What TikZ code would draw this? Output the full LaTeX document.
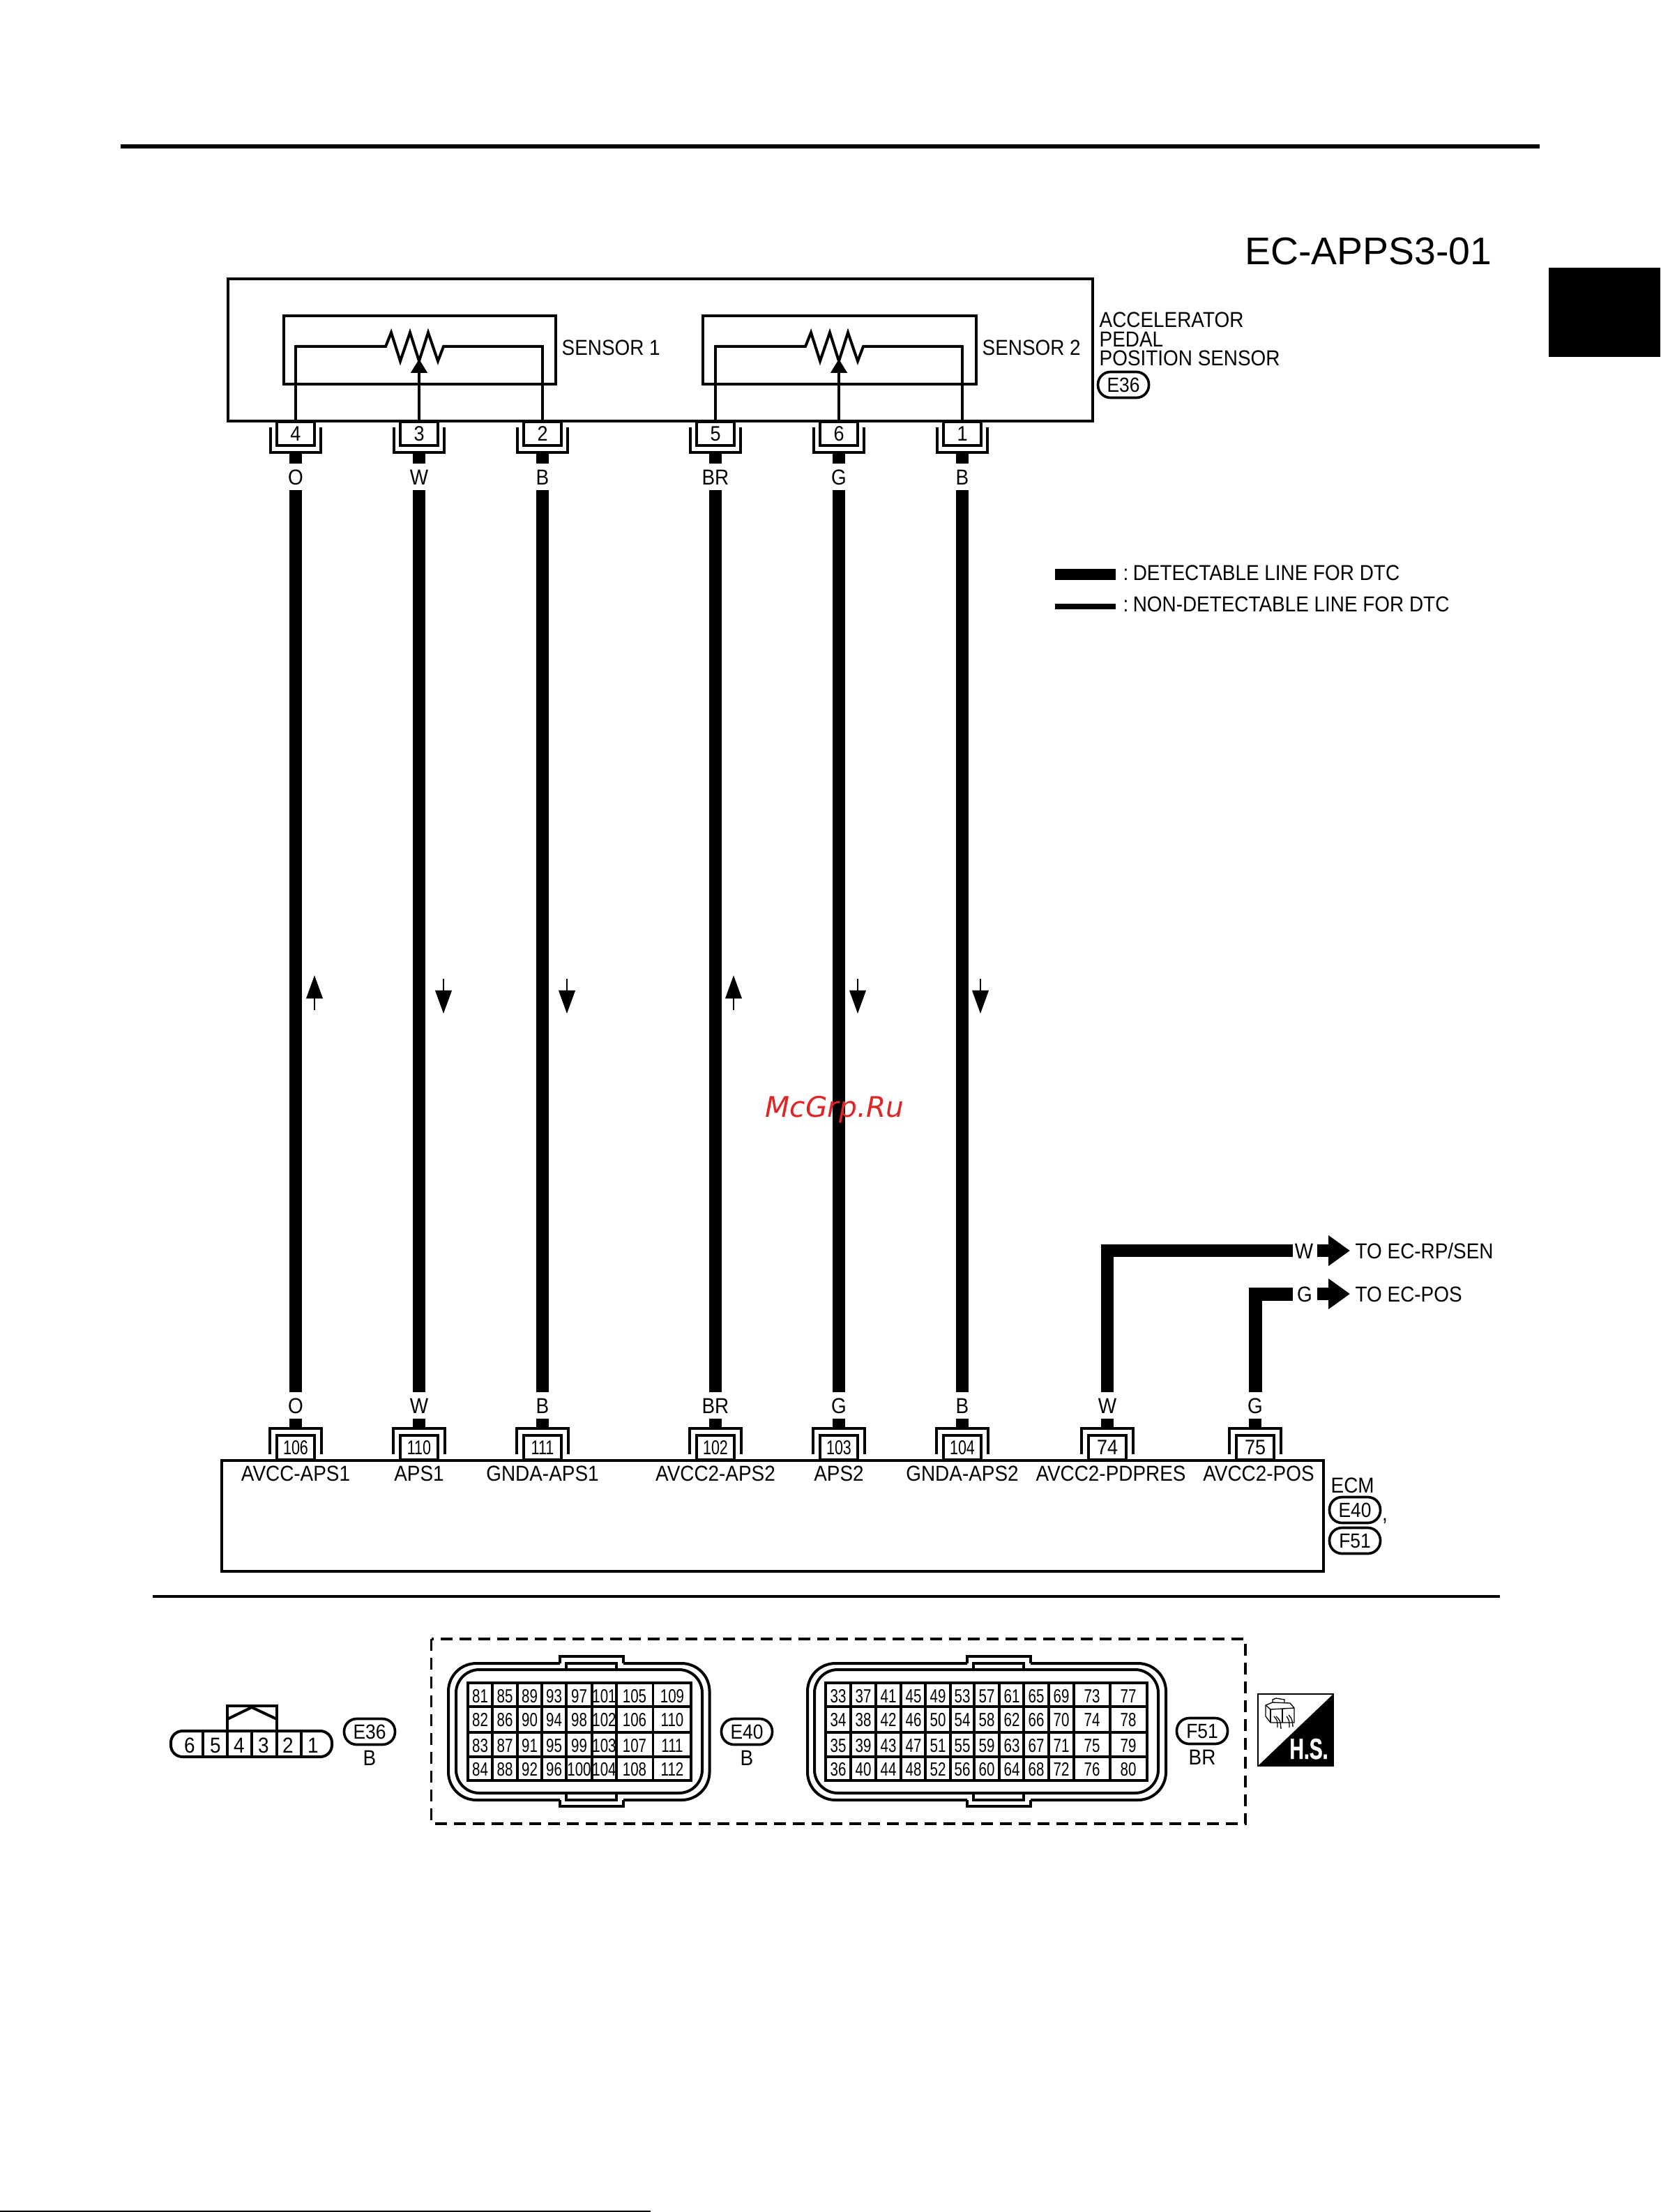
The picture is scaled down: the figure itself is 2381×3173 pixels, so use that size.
\documentclass[tikz,border=0pt]{standalone}
\usepackage{fontspec}
\setmainfont[FakeStretch=0.9]{Liberation Sans}
\newfontfamily\cellfont[FakeStretch=0.75]{Liberation Sans}
\newfontfamily\titlefont{Liberation Sans}
\newfontfamily\iconfont[FakeStretch=0.68,FakeBold=1]{Liberation Sans}
\newfontfamily\markfont{DejaVu Sans}
\definecolor{markred}{RGB}{222,38,38}
\usetikzlibrary{arrows.meta}
\begin{document}
\begin{tikzpicture}[x=0.3pt, y=-0.3pt, line join=miter,
  lab/.style={inner sep=0pt, text height=6.6pt, text depth=0pt, font=\fontsize{9.3}{10}\selectfont},
  leftlab/.style={lab, anchor=west},
  wire/.style={line width=5.4pt},
  colorlab/.style={lab, minimum height=11.2pt},
  pinbox/.style={draw, line width=1pt, inner sep=0pt, minimum width=16.2pt, text height=6.2pt, text depth=0pt, font=\fontsize{9}{9}\selectfont},
  pill/.style={draw, line width=1.1pt, rounded corners=5.4pt, inner sep=0pt, minimum width=21.9pt, minimum height=11.1pt, text height=6.2pt, text depth=0pt, font=\fontsize{8.8}{10}\selectfont},
  heavy/.style={line width=1.2pt},
  thinline/.style={line width=1pt},
  cell/.style={inner sep=0pt, text height=5.9pt, text depth=0pt, font=\cellfont\fontsize{8.2}{9}\selectfont},
  flowarrow/.style={line width=0.85pt, -{Triangle[length=10pt,width=7pt]}},
  bigarrow/.style={line width=5.4pt, -{Triangle[length=9.3pt,width=12.6pt]}},
  tolab/.style={lab, anchor=west, inner xsep=2.1pt}]

\useasboundingbox (0,0) rectangle (2381,3173);

% page furniture
\draw[line width=1.8pt] (173,210) -- (2208,210);
\fill (2221,384) rectangle (2381,512);
\draw[line width=0.6pt] (0,3172) -- (933,3172);
\draw[heavy] (219,2290) -- (2151,2290);
\node[anchor=east, inner sep=0pt, text height=12pt, text depth=0pt, font=\titlefont\fontsize{16.6}{18}\selectfont] (title) at (2140,360) {EC-APPS3-01};

% sensor housing
\draw[heavy] (327,400) rectangle (1567,604);
\draw[heavy] (407,453) rectangle (797,551);
\draw[heavy] (1008,453) rectangle (1400,551);
\node[leftlab] (sensora) at (805,499) {SENSOR 1};
\node[leftlab] (sensorb) at (1408,499) {SENSOR 2};
\node[leftlab] (accel) at (1576,459) {ACCELERATOR};
\node[leftlab] (pedal) at (1576,487) {PEDAL};
\node[leftlab] (possens) at (1576,514) {POSITION SENSOR};
\node[pill] (pilltop) at (1611,552) {E36};

% ecm housing
\draw[heavy] (318,2095) rectangle (1898,2254);
\node[leftlab] (ecm) at (1908,2130) {ECM};
\node[pill] (pille) at (1943,2166) {E40};
\node[pill] (pillf) at (1943,2210) {F51};
\node[lab, text height=2pt] (comma) at (1986,2178) {,};

% ecm side
\foreach \x/\col/\bp/\sig/\lx in {424/O/106/AVCC-APS1/424, 601/W/110/APS1/601, 778/B/111/GNDA-APS1/778,
  1026/BR/102/AVCC2-APS2/1026, 1203/G/103/APS2/1203, 1380/B/104/GNDA-APS2/1380,
  1588/W/74/AVCC2-PDPRES/1593, 1800/G/75/AVCC2-POS/1805}{
\node[pinbox, minimum height=10.5pt] (bp\bp) at (\x,2076.5) {\ifnum\bp>99 \cellfont\fontsize{8.6}{9}\selectfont\fi\bp};
\node[colorlab] (bc\bp) at (\x,2016) {\col};
\node[lab] (sig\bp) at (\lx,2113) {\sig};
\coordinate (bu\bp) at (\x,2049);
\draw[line width=1pt] (\x-37,2086) -- (\x-37,2049) -- (\x+37,2049) -- (\x+37,2086);
\draw[wire] (bc\bp.south) -- (bu\bp);
}

% sensor side and long wires
\foreach \x/\tp/\col/\bp/\ax/\ay/\by in {424/4/O/106/451/1449/1399, 601/3/W/110/636/1404/1454, 778/2/B/111/813/1404/1454,
  1026/5/BR/102/1052/1449/1399, 1203/6/G/103/1230/1404/1454, 1380/1/B/104/1406/1404/1454}{
\node[pinbox, minimum height=10.2pt] (tp\tp) at (\x,622) {\tp};
\node[colorlab] (tc\tp) at (\x,684) {\col};
\coordinate (tu\tp) at (\x,649);
\draw[line width=1pt] (\x-36,613) -- (\x-36,649) -- (\x+36,649) -- (\x+36,613);
\draw[wire] (tu\tp) -- (tc\tp.north);
\draw[wire] (tc\tp.south) -- (bc\bp.north);
\coordinate (fa\tp) at (\ax,\ay);
\coordinate (fb\tp) at (\ax,\by);
\draw[flowarrow] (fa\tp) -- (fb\tp);
}

% potentiometers
\foreach \dx/\pa/\pb/\pc/\id in {0/4/3/2/a, 602/5/6/1/b}{
\coordinate (za\id) at (\dx+553,497);
\coordinate (zb\id) at (\dx+636,497);
\coordinate (wp\id) at (\dx+601,515);
\draw[thinline] (tp\pa.north) |- (za\id);
\draw[thinline] (tp\pc.north) |- (zb\id);
\draw[heavy] (\dx+424,497) -- (za\id) -- (\dx+561,477) -- (\dx+574,518) -- (\dx+588,477) -- (\dx+601,518)
  -- (\dx+614,477) -- (\dx+628,518) -- (zb\id) -- (\dx+778,497);
\draw[heavy, -{Triangle[length=6pt,width=7pt]}] (tp\pb.north) -- (wp\id);
}

% the two branches on the right
\node[colorlab, minimum width=10pt] (wout) at (1870,1794) {W};
\node[colorlab, minimum width=10pt] (gout) at (1871,1856) {G};
\coordinate (wbend) at (1853.5,1794);
\coordinate (gbend) at (1853.5,1856);
\draw[wire] (bc74.north) |- (wbend);
\draw[line width=5.7pt] (bc75.north) |- (gbend);
\node[tolab] (wto) at (1936,1794) {TO EC-RP/SEN};
\node[tolab] (gto) at (1936,1856) {TO EC-POS};
\coordinate (wtail) at (1889,1794);
\coordinate (gtail) at (1889,1856);
\draw[bigarrow] (wtail) -- (wto.west);
\draw[bigarrow] (gtail) -- (gto.west);

% legend
\node[leftlab] (legthick) at (1610,821) {:\hspace{-1.2pt} DETECTABLE LINE FOR DTC};
\node[leftlab] (legthin) at (1610,866) {:\hspace{-1.2pt} NON-DETECTABLE LINE FOR DTC};
\coordinate (lega) at (1513,824);
\coordinate (legb) at (1600,824);
\coordinate (legc) at (1513,870);
\coordinate (legd) at (1600,870);
\draw[line width=5pt] (lega) -- (legb);
\draw[line width=2.4pt] (legc) -- (legd);

% small connector
\draw[heavy, rounded corners=5pt] (245,2483) rectangle (476,2520);
\foreach \x in {291,326,361,397,432}{
\draw[thinline] (\x,2483) -- (\x,2520);
}
\foreach \x/\n in {272/6,309/5,343/4,378/3,413/2,449/1}{
\node[lab] (sm\n) at (\x,2503) {\n};
}
\draw[heavy] (326,2483) -- (326,2447) -- (397,2447) -- (397,2483);
\draw[heavy] (326,2466) -- (361,2449) -- (397,2466);
\node[pill] (pillsm) at (530,2484) {E36};
\node[lab] (colsm) at (530,2521) {B};

% dashed frame
\draw[line width=1.1pt, dash pattern=on 5.1pt off 3pt] (618.5,2351) rectangle (1786,2616);

% connector outlines
\foreach \l/\r/\tl/\tr/\il/\ir/\sl/\sr in {643/1017.5/803/894/654/1007/812/884, 1158/1672/1387/1478/1168/1661/1396/1468}{
\draw[heavy] (\tl,2386) -- (\tl,2376) -- (\tr,2376) -- (\tr,2386);
\draw[heavy] (\tl,2582) -- (\tl,2591) -- (\tr,2591) -- (\tr,2582);
\draw[heavy, rounded corners=12pt] (\tr,2386) -- (\r,2386) -- (\r,2582) -- (\tr,2582);
\draw[heavy, rounded corners=12pt] (\tl,2582) -- (\l,2582) -- (\l,2386) -- (\tl,2386);
\draw[heavy, rounded corners=10pt] (\il,2395) rectangle (\ir,2572);
\draw[thinline] (\sl,2395) -- (\sl,2386) -- (\sr,2386) -- (\sr,2395);
\draw[thinline] (\sl,2572) -- (\sl,2582) -- (\sr,2582) -- (\sr,2572);
}

% e40 grid
\draw[heavy] (671,2414) rectangle (991,2554);
\foreach \x in {706,742,777,812,849,884,936.5}{
\draw[thinline] (\x,2414) -- (\x,2554);
}
\foreach \y in {2448,2485,2520}{
\draw[heavy] (671,\y) -- (991,\y);
}
\foreach \cx [count=\i from 0] in {688.5,724,759.5,794.5,830.5,866.5,910,964}{
\foreach \cy [count=\j from 0] in {2433,2467,2504,2538}{
\pgfmathtruncatemacro{\num}{81+4*\i+\j}
\node[cell] (e\num) at (\cx,\cy) {\num};
}}
\node[pill] (pillgrid) at (1071,2484) {E40};
\node[lab] (colgrid) at (1071,2521) {B};

% f51 grid
\draw[heavy] (1184,2414) rectangle (1645,2554);
\foreach \x in {1220,1256,1292,1327,1363,1397,1433,1468,1504,1540,1592}{
\draw[thinline] (\x,2414) -- (\x,2554);
}
\foreach \y in {2448,2485,2520}{
\draw[heavy] (1184,\y) -- (1645,\y);
}
\foreach \cx [count=\i from 0] in {1202,1238,1274,1310,1345,1380,1415,1451,1486,1522,1566,1618}{
\foreach \cy [count=\j from 0] in {2433,2467,2504,2538}{
\pgfmathtruncatemacro{\num}{33+4*\i+\j}
\node[cell] (f\num) at (\cx,\cy) {\num};
}}
\node[pill] (pillgridf) at (1724,2483) {F51};
\node[lab] (colgridf) at (1724,2520) {BR};

% service icon
\draw[line width=0.6pt] (1804,2430) rectangle (1912,2533);
\fill (1912,2430) -- (1912,2533) -- (1804,2533) -- cycle;
\node[inner sep=0pt, text=white, text height=8.4pt, text depth=0pt, font=\iconfont\bfseries\fontsize{12.5}{13}\selectfont] (hs) at (1877,2509) {H.S.};
\begin{scope}[line width=0.4pt]
\draw (1815,2446) -- (1825,2442) -- (1850,2443) -- (1856,2450) -- (1856,2471) -- (1822,2471) -- (1815,2462) -- cycle;
\draw (1815,2446) -- (1822,2452) -- (1856,2450);
\draw (1822,2452) -- (1822,2471);
\draw (1839,2451) -- (1839,2471);
\draw (1825,2442) -- (1825,2438) -- (1830,2436) -- (1842,2438) -- (1842,2443);
\draw (1827,2462) .. controls (1832,2468) .. (1832,2478);
\draw (1830,2462) .. controls (1836,2468) .. (1837,2480);
\draw (1845,2462) .. controls (1849,2468) .. (1849,2478);
\draw (1848,2460) .. controls (1853,2466) .. (1854,2477);
\end{scope}

% overprint
\node[inner sep=0pt, text=markred, font=\markfont\itshape\fontsize{12.2}{13}\selectfont] (wmark) at (1197,1592) {McGrp.Ru};

\end{tikzpicture}
\end{document}
